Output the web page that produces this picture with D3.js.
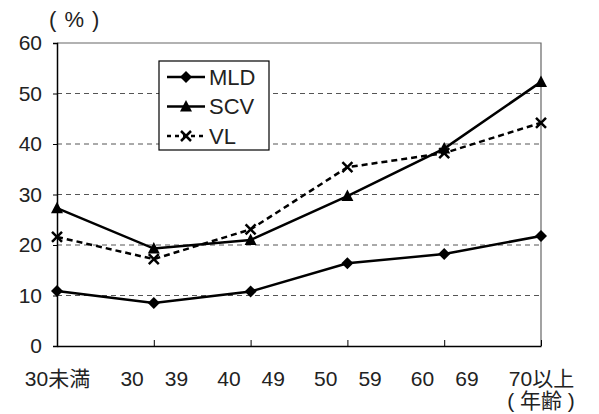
<!DOCTYPE html>
<html>
<head>
<meta charset="utf-8">
<script src="https://cdn.jsdelivr.net/npm/d3@7"></script>
<style>
  body { margin: 0; background: #fff; }
  svg text { font-family: "Liberation Sans", Arial, "Noto Sans CJK JP", sans-serif; fill: #222; }
</style>
</head>
<body>
<script>
// age groups (the range dash was lost in the original, only a gap remains)
var categories = ["30未満", "30\u300039", "40\u300049", "50\u300059", "60\u300069", "70以上"];
var mld = [10.9, 8.5, 10.8, 16.4, 18.2, 21.8];
var scv = [27.3, 19.3, 21.0, 29.7, 39.1, 52.3];
var vl = [21.6, 17.2, 23.1, 35.4, 38.2, 44.2];
var yTicks = [0, 10, 20, 30, 40, 50, 60];

var series = [
  { name: "MLD", values: mld, marker: "diamond", dash: null },
  { name: "SCV", values: scv, marker: "triangle", dash: null },
  { name: "VL", values: vl, marker: "cross", dash: "6,4" }
];

var W = 599, H = 414;
var plotLeft = 57, plotRight = 541, plotTop = 43, plotBottom = 346;

var svg = d3.select("body").append("svg").attr("width", W).attr("height", H);

var x = d3.scalePoint().domain(categories).range([plotLeft, plotRight]).padding(0);
var y = d3.scaleLinear().domain([0, 60]).range([plotBottom, plotTop]);

// dashed gridlines
svg.append("g").selectAll("line").data(yTicks.filter(function(d) { return d > 0 && d < 60; }))
  .enter().append("line")
  .attr("x1", plotLeft).attr("x2", plotRight)
  .attr("y1", function(d) { return y(d); }).attr("y2", function(d) { return y(d); })
  .attr("stroke", "#555").attr("stroke-width", 1).attr("stroke-dasharray", "5,4");

// plot area frame (top and right)
svg.append("path")
  .attr("d", "M" + plotLeft + "," + y(60) + "H" + plotRight + "V" + plotBottom)
  .attr("fill", "none").attr("stroke", "#666").attr("stroke-width", 1.2);

// y axis
var yAxis = svg.append("g").attr("transform", "translate(" + plotLeft + ",0)")
  .call(d3.axisLeft(y).tickValues(yTicks).tickSize(4).tickPadding(11));
yAxis.select(".domain").attr("stroke", "#000").attr("stroke-width", 1.5);
yAxis.selectAll(".tick line").attr("stroke", "#000");
yAxis.selectAll("text").style("font-size", "21px").attr("fill", "#222");

// x axis, ticks pointing up into the plot
var xAxis = svg.append("g").attr("transform", "translate(0," + plotBottom + ")")
  .call(d3.axisBottom(x).tickSizeInner(-6).tickSizeOuter(0).tickPadding(25));
xAxis.select(".domain").attr("stroke", "#000").attr("stroke-width", 1.5);
xAxis.selectAll(".tick line").attr("stroke", "#000");
xAxis.selectAll("text").style("font-size", "21px").attr("fill", "#222");

var line = d3.line().x(function(d, i) { return x(categories[i]); }).y(function(d) { return y(d); });

function drawMarker(g, type, cx, cy) {
  if (type == "diamond") {
    g.append("path").attr("d", "M" + cx + "," + (cy - 6) + "L" + (cx + 6) + "," + cy + "L" + cx + "," + (cy + 6) + "L" + (cx - 6) + "," + cy + "Z")
      .attr("fill", "#000");
  } else if (type == "triangle") {
    g.append("path").attr("d", "M" + cx + "," + (cy - 6.5) + "L" + (cx + 6) + "," + (cy + 5) + "L" + (cx - 6) + "," + (cy + 5) + "Z")
      .attr("fill", "#000");
  } else {
    g.append("path").attr("d", "M" + (cx - 5) + "," + (cy - 5) + "L" + (cx + 5) + "," + (cy + 5) + "M" + (cx + 5) + "," + (cy - 5) + "L" + (cx - 5) + "," + (cy + 5))
      .attr("stroke", "#000").attr("stroke-width", 2.5).attr("fill", "none");
  }
}

series.forEach(function(s) {
  var g = svg.append("g");
  g.append("path").datum(s.values).attr("d", line)
    .attr("fill", "none").attr("stroke", "#000").attr("stroke-width", 2.5)
    .attr("stroke-dasharray", s.dash);
  s.values.forEach(function(v, i) {
    drawMarker(g, s.marker, x(categories[i]), y(v));
  });
});

// legend
var lg = svg.append("g");
lg.append("rect").attr("x", 159).attr("y", 61).attr("width", 110).attr("height", 89)
  .attr("fill", "#fff").attr("stroke", "#000").attr("stroke-width", 1.2);
series.forEach(function(s, i) {
  var ly = 77 + i * 29.5;
  lg.append("line").attr("x1", 167).attr("x2", 205).attr("y1", ly).attr("y2", ly)
    .attr("stroke", "#000").attr("stroke-width", 2.5).attr("stroke-dasharray", s.dash ? "4,4" : null);
  drawMarker(lg, s.marker, 186, ly);
  lg.append("text").attr("x", 209).attr("y", ly).attr("dy", "0.36em")
    .style("font-size", "22px").text(s.name);
});

// unit labels
svg.append("text").attr("x", 49).attr("y", 27).style("font-size", "22px")
  .style("letter-spacing", "1px").style("white-space", "pre").text("( % )");
svg.append("text").attr("x", 541).attr("y", 408).attr("text-anchor", "middle")
  .style("font-size", "21px").style("white-space", "pre").text("( 年齢 )");
</script>
</body>
</html>
